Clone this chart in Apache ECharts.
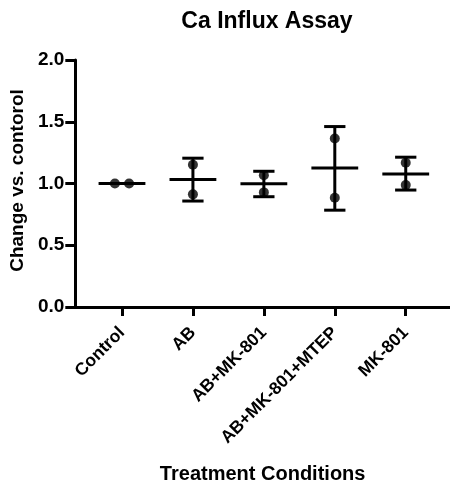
<!DOCTYPE html>
<html><head><meta charset="utf-8">
<script src="https://cdn.jsdelivr.net/npm/echarts@6/dist/echarts.min.js"></script>
<style>html,body{margin:0;padding:0;background:#fff}#c{width:450px;height:489px}</style>
</head><body><div id="c"></div>
<script>
var categories = ['Control', 'AB', 'AB+MK-801', 'AB+MK-801+MTEP', 'MK-801'];
var pointA = [1.0, 1.152, 1.067, 1.365, 1.168];
var pointB = [1.0, 0.912, 0.928, 0.885, 0.987];
var means = [1.0, 1.032, 0.997, 1.125, 1.077];
var sdUpper = [1.0, 1.205, 1.099, 1.461, 1.213];
var sdLower = [1.0, 0.858, 0.893, 0.784, 0.947];
var yTicks = [0, 0.5, 1.0, 1.5, 2.0];

var FONT = '"Liberation Sans", Arial, sans-serif';
var chart = echarts.init(document.getElementById('c'));

var scatterData = [];
categories.forEach(function (c, i) {
  var same = pointA[i] === pointB[i];
  scatterData.push([same ? i - 0.1 : i, pointA[i]]);
  scatterData.push([same ? i + 0.1 : i, pointB[i]]);
});
var summaryData = categories.map(function (c, i) { return [i, means[i], sdUpper[i], sdLower[i]]; });
var catIdx = categories.map(function (c, i) { return i; });

chart.setOption({
  animation: false,
  title: {
    text: 'Ca Influx Assay', left: 262, top: 5, textAlign: 'center',
    textStyle: { fontFamily: FONT, fontWeight: 'bold', fontSize: 23, color: '#000' }
  },
  grid: { left: 75, right: 0, top: 60, bottom: 179, containLabel: false },
  xAxis: {
    type: 'value', min: -0.658, max: 4.624,
    name: 'Treatment Conditions', nameLocation: 'middle', nameGap: 157,
    nameTextStyle: { fontFamily: FONT, fontWeight: 'bold', fontSize: 20, color: '#000' },
    axisLine: { show: true, onZero: false, lineStyle: { color: '#000', width: 3 } },
    axisTick: { show: true, length: 9, customValues: catIdx, lineStyle: { color: '#000', width: 3 } },
    axisLabel: {
      customValues: catIdx, rotate: 45, margin: 23,
      fontFamily: FONT, fontWeight: 'bold', fontSize: 17.5, color: '#000',
      formatter: function (v) { return categories[Math.round(v)]; }
    },
    splitLine: { show: false }
  },
  yAxis: {
    type: 'value', min: 0, max: 2, interval: 0.5,
    name: 'Change vs. contorol', nameLocation: 'middle', nameGap: 46,
    nameTextStyle: { fontFamily: FONT, fontWeight: 'bold', fontSize: 19, color: '#000', padding: [0, 0, 0, 6] },
    axisLine: { show: true, onZero: false, lineStyle: { color: '#000', width: 3 } },
    axisTick: { show: true, length: 10, lineStyle: { color: '#000', width: 3 } },
    axisLabel: {
      margin: 11, fontFamily: FONT, fontWeight: 'bold', fontSize: 19, color: '#000',
      formatter: function (v) { return v.toFixed(1); }
    },
    splitLine: { show: false }
  },
  series: [
    {
      type: 'custom',
      data: summaryData,
      renderItem: function (params, api) {
        var x = api.value(0);
        var m = api.coord([x, api.value(1)]);
        var up = api.coord([x, api.value(2)]);
        var lo = api.coord([x, api.value(3)]);
        var halfMean = api.size([0.33, 0])[0];
        var halfCap = api.size([0.15, 0])[0];
        var st = { stroke: '#000', lineWidth: 3 };
        return {
          type: 'group',
          children: [
            { type: 'line', shape: { x1: m[0], y1: up[1], x2: m[0], y2: lo[1] }, style: st },
            { type: 'line', shape: { x1: m[0] - halfCap, y1: up[1], x2: m[0] + halfCap, y2: up[1] }, style: st },
            { type: 'line', shape: { x1: m[0] - halfCap, y1: lo[1], x2: m[0] + halfCap, y2: lo[1] }, style: st },
            { type: 'line', shape: { x1: m[0] - halfMean, y1: m[1], x2: m[0] + halfMean, y2: m[1] }, style: st }
          ]
        };
      },
      z: 2
    },
    {
      type: 'scatter', data: scatterData, symbol: 'circle', symbolSize: 10,
      itemStyle: { color: '#000' }, z: 3
    }
  ]
});
</script></body></html>
